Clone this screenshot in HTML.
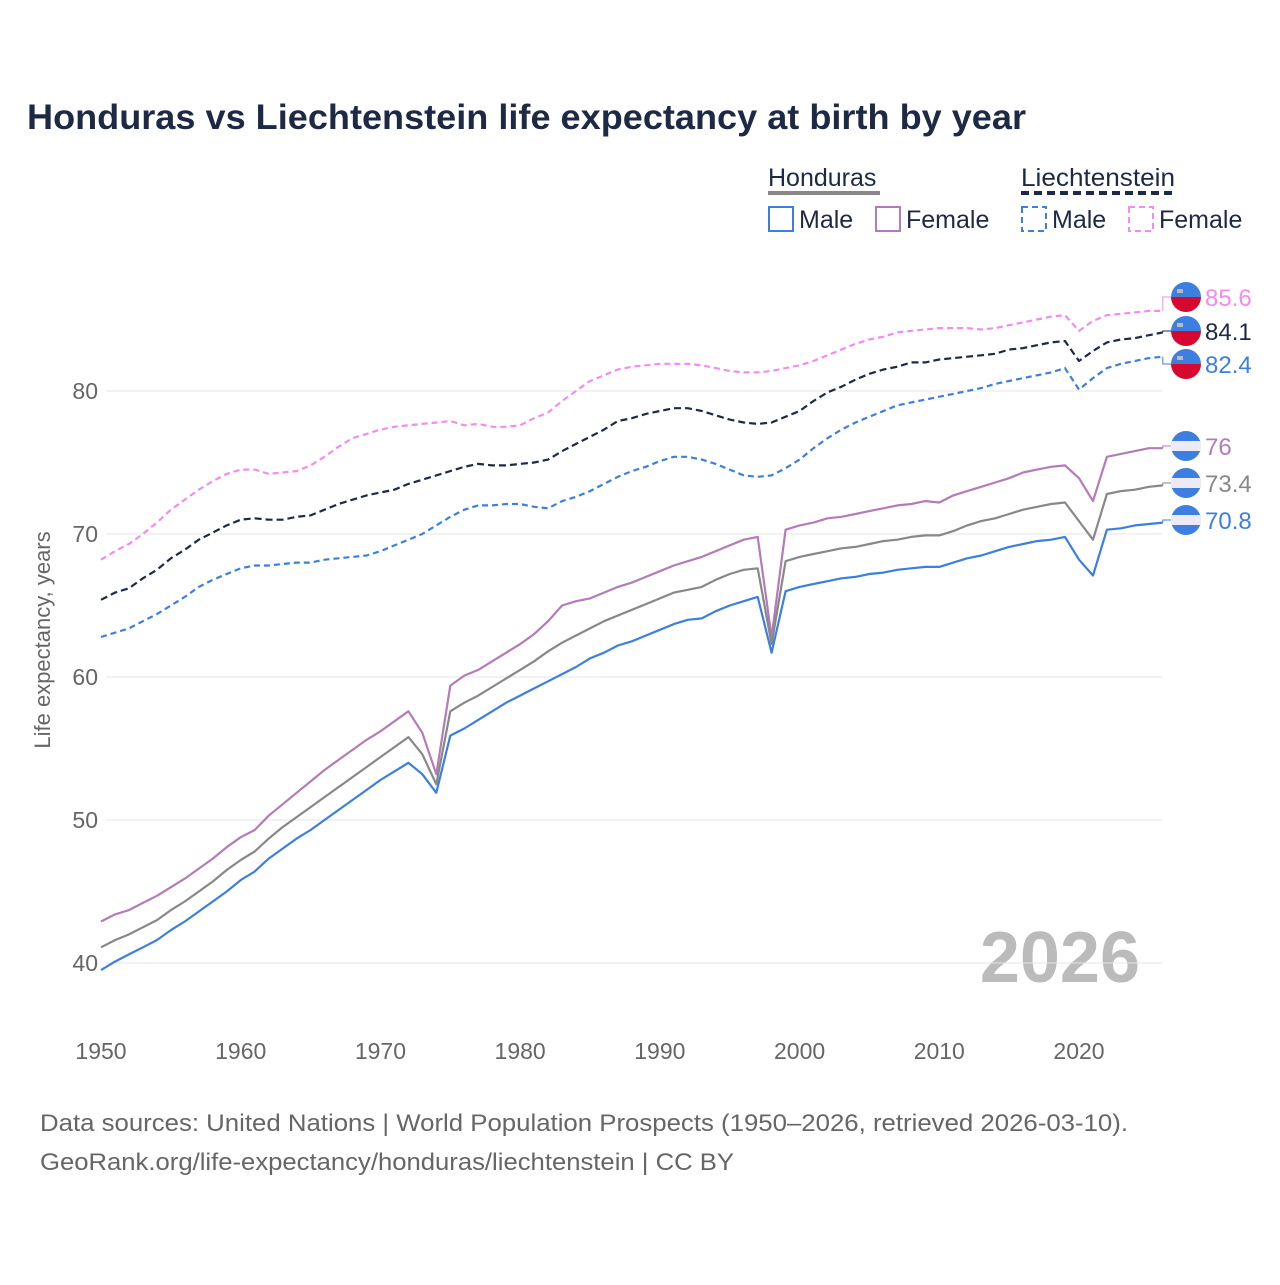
<!DOCTYPE html>
<html><head><meta charset="utf-8"><style>
body{margin:0;background:#fff;font-family:"Liberation Sans",sans-serif}
svg text{font-family:"Liberation Sans",sans-serif}
</style></head><body>
<svg id="c" width="1280" height="1280" viewBox="0 0 1280 1280">
<text x="27" y="129" font-size="35" font-weight="bold" fill="#1e2a45" textLength="999" lengthAdjust="spacingAndGlyphs">Honduras vs Liechtenstein life expectancy at birth by year</text>
<g>
<text x="768" y="186" font-size="25" fill="#1e2a45">Honduras</text>
<line x1="768" y1="193" x2="880" y2="193" stroke="#888" stroke-width="4"/>
<rect x="769" y="207" width="24" height="24" fill="none" stroke="#3c7fe0" stroke-width="2"/>
<text x="799" y="228" font-size="25" fill="#1e2a45">Male</text>
<rect x="876" y="207" width="24" height="24" fill="none" stroke="#b57bb8" stroke-width="2"/>
<text x="906" y="228" font-size="25" fill="#1e2a45">Female</text>
<text x="1021" y="186" font-size="25" fill="#1e2a45" textLength="154" lengthAdjust="spacingAndGlyphs">Liechtenstein</text>
<line x1="1021" y1="193" x2="1175" y2="193" stroke="#1e2a45" stroke-width="4" stroke-dasharray="8,5"/>
<rect x="1022" y="207" width="24" height="24" fill="none" stroke="#3c7fe0" stroke-width="2" stroke-dasharray="6,4"/>
<text x="1052" y="228" font-size="25" fill="#1e2a45">Male</text>
<rect x="1129" y="207" width="24" height="24" fill="none" stroke="#f58af0" stroke-width="2" stroke-dasharray="6,4"/>
<text x="1159" y="228" font-size="25" fill="#1e2a45">Female</text>
</g>
<text transform="translate(50,640) rotate(-90)" text-anchor="middle" font-size="22" fill="#666">Life expectancy, years</text>
<text x="1140" y="982" text-anchor="end" font-size="72" font-weight="bold" fill="#bbb">2026</text>
<g id="grid"></g><g id="series"></g><g id="labels"></g>
<text x="40" y="1131" font-size="24" fill="#666" textLength="1088" lengthAdjust="spacingAndGlyphs">Data sources: United Nations | World Population Prospects (1950–2026, retrieved 2026-03-10).</text>
<text x="40" y="1170" font-size="24" fill="#666" textLength="694" lengthAdjust="spacingAndGlyphs">GeoRank.org/life-expectancy/honduras/liechtenstein | CC BY</text>
</svg>
<script>
const startYear=1950;
const yTicks=[40,50,60,70,80];
const xTicks=[1950,1960,1970,1980,1990,2000,2010,2020];
const hondurasMale=[39.5,40.1,40.6,41.1,41.6,42.3,42.9,43.6,44.3,45.0,45.8,46.4,47.3,48.0,48.7,49.3,50.0,50.7,51.4,52.1,52.8,53.4,54.0,53.2,51.9,55.9,56.4,57.0,57.6,58.2,58.7,59.2,59.7,60.2,60.7,61.3,61.7,62.2,62.5,62.9,63.3,63.7,64.0,64.1,64.6,65.0,65.3,65.6,61.7,66.0,66.3,66.5,66.7,66.9,67.0,67.2,67.3,67.5,67.6,67.7,67.7,68.0,68.3,68.5,68.8,69.1,69.3,69.5,69.6,69.8,68.2,67.1,70.3,70.4,70.6,70.7,70.8];
const hondurasTotal=[41.1,41.6,42.0,42.5,43.0,43.7,44.3,45.0,45.7,46.5,47.2,47.8,48.7,49.5,50.2,50.9,51.6,52.3,53.0,53.7,54.4,55.1,55.8,54.6,52.5,57.6,58.2,58.7,59.3,59.9,60.5,61.1,61.8,62.4,62.9,63.4,63.9,64.3,64.7,65.1,65.5,65.9,66.1,66.3,66.8,67.2,67.5,67.6,62.3,68.1,68.4,68.6,68.8,69.0,69.1,69.3,69.5,69.6,69.8,69.9,69.9,70.2,70.6,70.9,71.1,71.4,71.7,71.9,72.1,72.2,70.9,69.6,72.8,73.0,73.1,73.3,73.4];
const hondurasFemale=[42.9,43.4,43.7,44.2,44.7,45.3,45.9,46.6,47.3,48.1,48.8,49.3,50.3,51.1,51.9,52.7,53.5,54.2,54.9,55.6,56.2,56.9,57.6,56.1,53.2,59.4,60.1,60.5,61.1,61.7,62.3,63.0,63.9,65.0,65.3,65.5,65.9,66.3,66.6,67.0,67.4,67.8,68.1,68.4,68.8,69.2,69.6,69.8,62.8,70.3,70.6,70.8,71.1,71.2,71.4,71.6,71.8,72.0,72.1,72.3,72.2,72.7,73.0,73.3,73.6,73.9,74.3,74.5,74.7,74.8,73.9,72.3,75.4,75.6,75.8,76.0,76.0];
const liechTotal=[65.4,65.9,66.2,66.9,67.5,68.3,68.9,69.6,70.1,70.6,71.0,71.1,71.0,71.0,71.2,71.3,71.7,72.1,72.4,72.7,72.9,73.1,73.5,73.8,74.1,74.4,74.7,74.9,74.8,74.8,74.9,75.0,75.2,75.8,76.3,76.8,77.3,77.9,78.1,78.4,78.6,78.8,78.8,78.6,78.3,78.0,77.8,77.7,77.8,78.2,78.6,79.3,79.9,80.3,80.8,81.2,81.5,81.7,82.0,82.0,82.2,82.3,82.4,82.5,82.6,82.9,83.0,83.2,83.4,83.5,82.1,82.8,83.4,83.6,83.7,83.9,84.1];
const liechMale=[62.8,63.1,63.4,63.9,64.4,65.0,65.6,66.3,66.8,67.2,67.6,67.8,67.8,67.9,68.0,68.0,68.2,68.3,68.4,68.5,68.8,69.2,69.6,70.0,70.6,71.2,71.7,72.0,72.0,72.1,72.1,71.9,71.8,72.3,72.6,73.0,73.5,74.0,74.4,74.7,75.1,75.4,75.4,75.2,74.9,74.5,74.1,74.0,74.1,74.6,75.2,76.0,76.7,77.3,77.8,78.2,78.6,79.0,79.2,79.4,79.6,79.8,80.0,80.2,80.5,80.7,80.9,81.1,81.3,81.6,80.1,80.9,81.6,81.9,82.1,82.3,82.4];
const liechFemale=[68.2,68.8,69.3,70.0,70.8,71.7,72.4,73.1,73.7,74.2,74.5,74.5,74.2,74.3,74.4,74.8,75.4,76.1,76.7,77.0,77.3,77.5,77.6,77.7,77.8,77.9,77.6,77.7,77.5,77.5,77.6,78.1,78.5,79.3,80.0,80.7,81.1,81.5,81.7,81.8,81.9,81.9,81.9,81.8,81.6,81.4,81.3,81.3,81.4,81.6,81.8,82.1,82.5,82.9,83.3,83.6,83.8,84.1,84.2,84.3,84.4,84.4,84.4,84.3,84.4,84.6,84.8,85.0,85.2,85.3,84.2,84.9,85.3,85.4,85.5,85.6,85.6];
const endLabels=["85.6","84.1","82.4","76","73.4","70.8"];

const NS="http://www.w3.org/2000/svg";
const xs=yr=>101+(yr-1950)*(1079-101)/70;
const ys=v=>963-(v-40)*(963-391)/40;
function mk(tag,attrs,parent){const e=document.createElementNS(NS,tag);for(const k in attrs)e.setAttribute(k,attrs[k]);parent.appendChild(e);return e;}
const grid=document.getElementById('grid');
yTicks.forEach(t=>{
  const l=mk('line',{x1:106,x2:1162,y1:ys(t),y2:ys(t),stroke:'#e6e6e6','stroke-width':1},grid);
  
  
  const tx=mk('text',{x:98,y:ys(t)+8,'text-anchor':'end','font-size':23,fill:'#666'},grid);
  tx.textContent=t;
  
  
});
xTicks.forEach(t=>{
  const tx=mk('text',{x:xs(t),y:1059,'text-anchor':'middle','font-size':23,fill:'#666'},grid);
  tx.textContent=t;
  
  
});
const defs=[
 {d:liechFemale,c:'#f58af0',dash:'6,4',n:'liechtenstein-female-line',flag:'li',ly:297},
 {d:liechTotal,c:'#1e2a45',dash:'7,4',n:'liechtenstein-total-line',flag:'li',ly:331},
 {d:liechMale,c:'#3c7fe0',dash:'6,4',n:'liechtenstein-male-line',flag:'li',ly:364},
 {d:hondurasFemale,c:'#b57bb8',dash:'',n:'honduras-female-line',flag:'hn',ly:446},
 {d:hondurasTotal,c:'#888',dash:'',n:'honduras-total-line',flag:'hn',ly:483},
 {d:hondurasMale,c:'#3c7fe0',dash:'',n:'honduras-male-line',flag:'hn',ly:520}
];
const sg=document.getElementById('series'),lg=document.getElementById('labels');
defs.forEach((s,i)=>{
  const pts=s.d.map((v,j)=>xs(startYear+j).toFixed(1)+','+ys(v).toFixed(1)).join(' ');
  const p=mk('polyline',{points:pts,fill:'none',stroke:s.c,'stroke-width':2.2,'stroke-linejoin':'round'},sg);
  if(s.dash)p.setAttribute('stroke-dasharray',s.dash);
  
  
  const lastX=xs(startYear+s.d.length-1),lastY=ys(s.d[s.d.length-1]);
  const cn=mk('polyline',{points:`${lastX},${lastY} ${lastX},${s.ly} 1172,${s.ly}`,fill:'none',stroke:s.c,'stroke-width':1},lg);
  
  
  const g=mk('g',{},lg);
  
  
  const cx=1186,cy=s.ly,r=15;
  if(s.flag==='li'){
    mk('path',{d:`M${cx-r},${cy} A${r},${r} 0 0 1 ${cx+r},${cy} Z`,fill:'#3c7fe0'},g);
    mk('path',{d:`M${cx-r},${cy} A${r},${r} 0 0 0 ${cx+r},${cy} Z`,fill:'#d6082f'},g);
    mk('rect',{x:cx-9,y:cy-8,width:6,height:4,fill:'#bbb'},g);
  }else{
    mk('circle',{cx:cx,cy:cy,r:r,fill:'#3c7fe0'},g);
    mk('rect',{x:cx-r,y:cy-5,width:2*r,height:10,fill:'#eeeaf5'},g);
  }
  const t=mk('text',{x:1205,y:s.ly+9,'font-size':24,fill:s.c},lg);
  t.textContent=endLabels[i];
  
  
});
</script>
</body></html>
